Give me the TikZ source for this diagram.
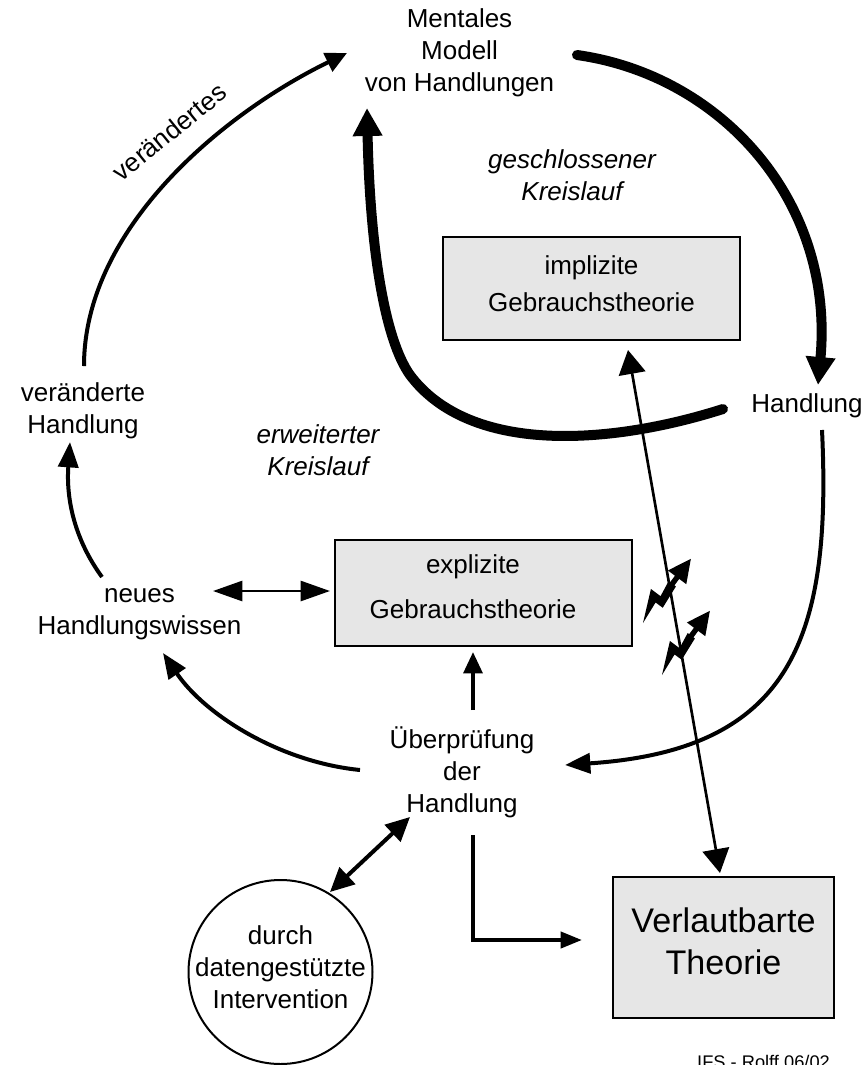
\documentclass[tikz,border=0pt]{standalone}
\usepackage{fontspec}
\setmainfont{Liberation Sans}
\usetikzlibrary{arrows.meta}
\definecolor{boxgray}{HTML}{E6E6E6}
\begin{document}
\begin{tikzpicture}[x=0.75pt,y=-0.75pt,
  txt/.style={font=\fontsize{19.5}{24}\selectfont, align=center, inner sep=0pt,
    execute at begin node=\strut, execute at end node=\strut},
  itxt/.style={txt, font=\fontsize{19.5}{24}\selectfont\itshape},
  gbox/.style={draw, line width=2pt, fill=boxgray, inner sep=0pt},
  conn/.style={line width=3pt, -{Triangle[length=19pt,width=15pt]}},
  fat/.style={line width=7.5pt, line cap=round, -{Triangle[length=21pt,width=21pt]}},
  dbl/.style={line width=2pt, {Triangle[length=#1,width=15pt]}-{Triangle[length=#1,width=15pt]}},
  bolt/.style={fill=black}
]
\path[use as bounding box] (0,0) rectangle (867,1065);

% ---------- nodes ----------
\node[txt] (mm) at (459.5,54.6) {Mentales\\Modell\\von Handlungen};
\node[itxt] (gk) at (572,179.6) {geschlossener\\Kreislauf};
\node[gbox, txt, minimum width=222.75pt, minimum height=77.25pt] (impl) at (591.5,288.5)
  {implizite\\[3.75pt]Gebrauchstheorie};
\node[txt] (hr) at (807,405.6) {Handlung};
\node[txt] (vh) at (83,412.6) {veränderte\\Handlung};
\node[itxt] (ek) at (318,454.6) {erweiterter\\Kreislauf};
\node[gbox, minimum width=222.75pt, minimum height=79.5pt] (expl) at (483.5,593) {};
\node[txt] (explt) at (473,591) {explizite\\[9.75pt]Gebrauchstheorie};
\node[txt] (nh) at (139.5,616.6) {neues\\Handlungswissen};
\node[txt] (ue) at (462,774.6) {Überprüfung\\der\\Handlung};
\node[circle, draw, line width=1.5pt, minimum size=138pt, inner sep=0pt] (circ) at (280.5,972) {};
\node[txt] (circt) at (circ.center) {durch\\datengestützte\\Intervention};
\node[gbox, txt, font=\fontsize{25.6}{31.5}\selectfont, minimum width=165.75pt, minimum height=105.75pt]
  (vt) at (723.5,947.5) {Verlautbarte\\Theorie};
\node[anchor=base, font=\fontsize{13.7}{16}\selectfont, inner sep=0pt] (ft) at (763.5,1068) {IFS - Rolff 06/02};

% ---------- connector end points ----------
\coordinate (vhtop) at (84,366);
\coordinate (mmin) at (347,53);
\coordinate (hrl) at (723,409);
\coordinate (mmbot) at (367,108);
\coordinate (mmr) at (577,55);
\coordinate (hrtop) at (818,385);
\coordinate (hrbot) at (822,430);
\coordinate (uer) at (565,765);
\coordinate (uel) at (360,770);
\coordinate (nhb) at (163,653);
\coordinate (nht) at (102,577);
\coordinate (vhb) at (70,442);
\coordinate (nhr) at (213,591);
\coordinate (explw) at (330,591);
\coordinate (uetop) at (473,710);
\coordinate (explb) at (473,652);
\coordinate (uebot) at (473,835);
\coordinate (vtw) at (582,940);
\coordinate (uecirc) at (410,817);
\coordinate (circue) at (330,892);
\coordinate (implb) at (628,350);
\coordinate (vttop) at (720,873);

% ---------- connectors ----------
\draw[line width=3pt, -{Triangle[length=16pt,width=15pt]}] (vhtop) .. controls (84,230) and (220,115) .. (mmin);
\node[txt, rotate=39] (vlab) at (171,134) {verändertes};

\draw[fat] (hrl) .. controls (610,445) and (470,455) .. (410,375) .. controls (385,340) and (370,250) .. (mmbot);
\draw[fat] (mmr) .. controls (720,75) and (835,200) .. (hrtop);

\draw[conn] (hrbot) .. controls (832,640) and (790,750) .. (uer);
\draw[conn] (uel) .. controls (280,762) and (205,715) .. (nhb);
\draw[conn] (nht) .. controls (75,540) and (66,500) .. (vhb);

\draw[dbl=22pt] (nhr) -- (explw);
\draw[line width=3pt, -{Triangle[length=16pt,width=14pt]}] (uetop) -- (explb);
\draw[line width=3pt, -{Triangle[length=16pt,width=12pt]}] (uebot) |- (vtw);
\draw[line width=3pt, {Triangle[length=18pt,width=17pt]}-{Triangle[length=18pt,width=17pt]}] (circue) -- (uecirc);
\draw[line width=2pt, {Triangle[length=18pt,width=20pt]}-{Triangle[length=18pt,width=20pt]}] (implb) -- (vttop);

% ---------- lightning arrows ----------
\begin{scope}[shift={(643,623)}, x={(0.4485pt,0.601pt)}, y={(-0.601pt,0.4485pt)}]
  \fill[bolt] (49,-4.5) -- (49,4.5) -- (32,2) -- (32,14) -- (0,0) -- (24,2.2) -- (24,-6.7) -- cycle;
  \draw[line width=4pt] (48,0) -- (60,0);
  \fill[bolt] (80,0) -- (57,11.5) -- (57,-11.5) -- cycle;
\end{scope}
\begin{scope}[shift={(662,675)}, x={(0.4485pt,0.601pt)}, y={(-0.601pt,0.4485pt)}]
  \fill[bolt] (49,-4.5) -- (49,4.5) -- (32,2) -- (32,14) -- (0,0) -- (24,2.2) -- (24,-6.7) -- cycle;
  \draw[line width=4pt] (48,0) -- (60,0);
  \fill[bolt] (80,0) -- (57,11.5) -- (57,-11.5) -- cycle;
\end{scope}
\end{tikzpicture}
\end{document}
